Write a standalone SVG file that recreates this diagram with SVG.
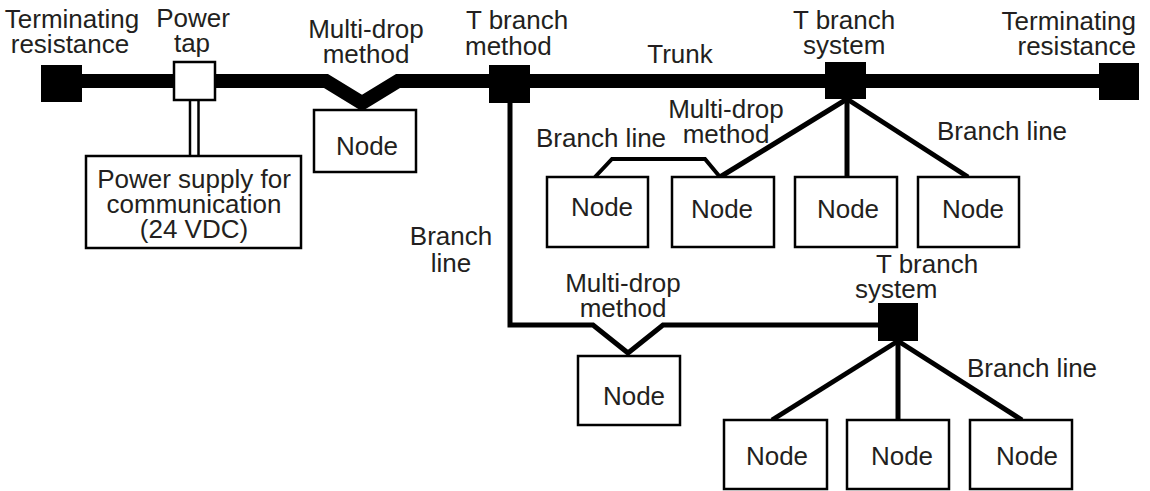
<svg xmlns="http://www.w3.org/2000/svg" width="1150" height="491" viewBox="0 0 1150 491">
<style>
text{font-family:"Liberation Sans",Arial,sans-serif;font-size:26px;fill:#231f20}
.m{text-anchor:middle}
.e{text-anchor:end}
.box{fill:#fff;stroke:#000;stroke-width:2.5}
.blk{fill:#000}
.trunk{fill:none;stroke:#000;stroke-width:14;stroke-linejoin:miter}
.br{fill:none;stroke:#000;stroke-width:5;stroke-linejoin:miter}
.thin{fill:none;stroke:#000;stroke-width:4}
.pw{fill:none;stroke:#000;stroke-width:2.5}
</style>
<g id="connectors">
<polyline class="trunk" points="82,81 326,81 362,103 398,81 1099,81"/>
<line class="pw" x1="190" y1="100" x2="190" y2="156"/>
<line class="pw" x1="198.5" y1="100" x2="198.5" y2="156"/>
<polyline class="br" points="510,103 510,325 593,325 628,353 663,325 878,325"/>
<line class="br" x1="847" y1="99" x2="720" y2="177"/>
<line class="br" x1="847" y1="99" x2="847" y2="177"/>
<line class="br" x1="847" y1="99" x2="968" y2="177"/>
<polyline class="thin" points="595,177 612,159 705,159 720,177"/>
<line class="br" x1="898" y1="341" x2="772" y2="420"/>
<line class="br" x1="898" y1="341" x2="898" y2="420"/>
<line class="br" x1="898" y1="341" x2="1022" y2="420"/>
</g>
<g id="term-left"><rect class="blk" x="41" y="65" width="41" height="37"/></g>
<g id="term-right"><rect class="blk" x="1099" y="63" width="40" height="37"/></g>
<g id="power-tap"><rect class="box" x="174" y="62" width="41" height="38"/></g>
<g id="tbranch-method"><rect class="blk" x="489" y="65" width="41" height="38"/></g>
<g id="tbranch-system1"><rect class="blk" x="825" y="62" width="41" height="37"/></g>
<g id="tbranch-system2"><rect class="blk" x="878" y="303" width="40" height="38"/></g>
<g id="power-supply">
<rect class="box" x="86" y="156" width="215" height="92"/>
<text class="m" x="194" y="188">Power supply for</text>
<text class="m" x="194" y="213">communication</text>
<text class="m" x="194" y="238">(24 VDC)</text>
</g>
<g id="node1"><rect class="box" x="314" y="110" width="102" height="62"/><text class="m" x="367" y="155">Node</text></g>
<g id="nodeA"><rect class="box" x="547" y="177" width="101" height="70"/><text class="m" x="602" y="216">Node</text></g>
<g id="nodeB"><rect class="box" x="672" y="177" width="102" height="70"/><text class="m" x="722" y="218">Node</text></g>
<g id="nodeC"><rect class="box" x="795" y="177" width="102" height="70"/><text class="m" x="848" y="218">Node</text></g>
<g id="nodeD"><rect class="box" x="918" y="177" width="101" height="70"/><text class="m" x="973" y="218">Node</text></g>
<g id="nodeE"><rect class="box" x="578" y="356" width="102" height="69"/><text class="m" x="634" y="405">Node</text></g>
<g id="nodeF"><rect class="box" x="724" y="420" width="103" height="69"/><text class="m" x="777" y="465">Node</text></g>
<g id="nodeG"><rect class="box" x="847" y="420" width="102" height="69"/><text class="m" x="902" y="465">Node</text></g>
<g id="nodeH"><rect class="box" x="970" y="420" width="102" height="69"/><text class="m" x="1027" y="465">Node</text></g>
<g id="labels">
<text class="m" x="72" y="28">Terminating</text>
<text class="m" x="70" y="53">resistance</text>
<text class="m" x="193" y="27">Power</text>
<text class="m" x="192" y="52">tap</text>
<text class="m" x="366" y="38">Multi-drop</text>
<text class="m" x="366" y="63">method</text>
<text x="466" y="29">T branch</text>
<text x="465" y="55">method</text>
<text class="m" x="680" y="63">Trunk</text>
<text x="793" y="29">T branch</text>
<text x="803" y="54">system</text>
<text class="e" x="1136" y="30">Terminating</text>
<text class="e" x="1136" y="55">resistance</text>
<text class="m" x="726" y="118">Multi-drop</text>
<text class="m" x="726" y="143">method</text>
<text x="536" y="147">Branch line</text>
<text x="937" y="140">Branch line</text>
<text class="m" x="451" y="245">Branch</text>
<text class="m" x="451" y="272">line</text>
<text class="m" x="623" y="292">Multi-drop</text>
<text class="m" x="623" y="317">method</text>
<text x="876" y="273">T branch</text>
<text x="855" y="298">system</text>
<text x="967" y="377">Branch line</text>
</g>
</svg>
